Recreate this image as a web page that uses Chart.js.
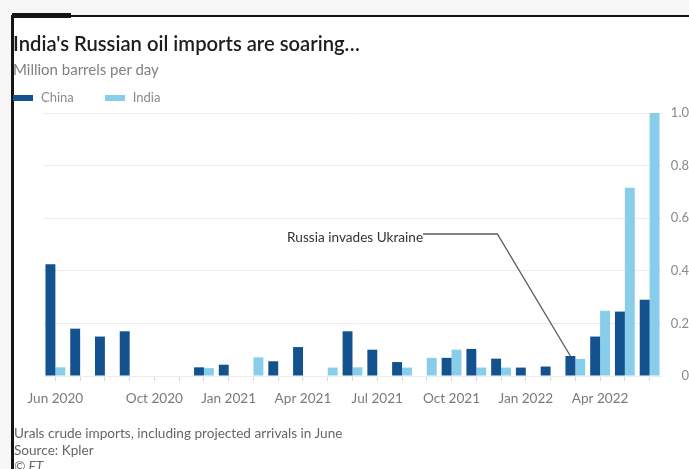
<!DOCTYPE html>
<html>
<head>
<meta charset="utf-8">
<script src="https://cdn.jsdelivr.net/npm/chart.js@4"></script>
<style>
  html, body { margin: 0; padding: 0; background: #f6f6f6; }
  #page { position: relative; width: 689px; height: 469px; overflow: hidden; background: #f6f6f6; font-family: Lato, "Open Sans", sans-serif; }
  #panel { position: absolute; left: 14px; top: 17px; right: 0; bottom: 0; background: #fff; }
  #frameTop { position: absolute; left: 12px; top: 15px; width: 677px; height: 2px; background: #141414; }
  #frameTab { position: absolute; left: 12px; top: 13px; width: 59px; height: 5px; background: #141414; }
  #frameLeft { position: absolute; left: 11px; top: 15px; width: 3px; height: 454px; background: #141414; }
  canvas { position: absolute; left: 0; top: 0; }
  .t { position: absolute; white-space: nowrap; line-height: 1; }
  #title { left: 13px; top: 33px; font-size: 20.2px; font-weight: 600; color: #1d1d1d; }
  #subtitle { left: 13px; top: 62px; font-size: 15px; color: #808080; }
  #legend { left: 13px; top: 91px; font-size: 13px; color: #8a8a8a; display: flex; align-items: center; }
  .item { display: flex; align-items: center; margin-right: 31px; }
  .swatch { width: 20px; height: 6px; margin-right: 8px; }
  #notes { left: 14px; top: 425px; font-size: 13.6px; color: #666; line-height: 16.5px; }
  #notes i { font-style: italic; }
</style>
</head>
<body>
<div id="page">
  <div id="panel"></div>
  <canvas id="chart" width="689" height="469"></canvas>
  <div id="frameTop"></div>
  <div id="frameTab"></div>
  <div id="frameLeft"></div>
  <div class="t" id="title">India's Russian oil imports are soaring…</div>
  <div class="t" id="subtitle">Million barrels per day</div>
  <div class="t" id="legend"></div>
  <div class="t" id="notes">Urals crude imports, including projected arrivals in June<br>Source: Kpler<br><i>© FT</i></div>
</div>
<script>
// Monthly categories, June 2020 to June 2022
const months = [
  'Jun 2020', 'Jul 2020', 'Aug 2020', 'Sep 2020', 'Oct 2020', 'Nov 2020', 'Dec 2020',
  'Jan 2021', 'Feb 2021', 'Mar 2021', 'Apr 2021', 'May 2021', 'Jun 2021',
  'Jul 2021', 'Aug 2021', 'Sep 2021', 'Oct 2021', 'Nov 2021', 'Dec 2021',
  'Jan 2022', 'Feb 2022', 'Mar 2022', 'Apr 2022', 'May 2022', 'Jun 2022'
];

// Urals crude imports, million barrels per day
const chinaImports = [
  0.425, 0.18, 0.15, 0.17, null, null, 0.033,
  0.043, null, 0.056, 0.11, null, 0.17,
  0.10, 0.053, null, 0.069, 0.103, 0.066,
  0.032, 0.036, 0.076, 0.15, 0.245, 0.29
];
const indiaImports = [
  0.033, null, null, null, null, null, 0.03,
  null, 0.071, null, null, 0.032, 0.033,
  null, 0.032, 0.069, 0.10, 0.032, 0.032,
  null, null, 0.065, 0.248, 0.716, 1.0
];

const seriesNames = ['China', 'India'];
const seriesColors = ['#13518f', '#88cde9'];

// Months that carry a label on the time axis
const xTickLabels = ['Jun 2020', 'Oct 2020', 'Jan 2021', 'Apr 2021', 'Jul 2021', 'Oct 2021', 'Jan 2022', 'Apr 2022'];
// Value axis labels, bottom to top
const yTickValues = [0, 0.2, 0.4, 0.6, 0.8, 1.0];
const yTickLabels = ['0', '0.2', '0.4', '0.6', '0.8', '1.0'];

// Call-out for the invasion: text ends at textEnd, the leader bends at elbow and drops to the China bar
const invasionNote = { text: 'Russia invades Ukraine', month: 'Mar 2022', textEnd: 14.85, elbow: 17.85, level: 0.54 };

// Legend
const legendEl = document.getElementById('legend');
seriesNames.forEach((name, i) => {
  const item = document.createElement('div');
  item.className = 'item';
  const sw = document.createElement('span');
  sw.className = 'swatch';
  sw.style.background = seriesColors[i];
  const lb = document.createElement('span');
  lb.textContent = name;
  item.appendChild(sw);
  item.appendChild(lb);
  legendEl.appendChild(item);
});

const calloutPlugin = {
  id: 'callout',
  afterDatasetsDraw(chart) {
    const { ctx, scales: { x, y } } = chart;
    const bar = chart.getDatasetMeta(0).data[months.indexOf(invasionNote.month)];
    const yLine = y.getPixelForValue(invasionNote.level);
    const xText = x.getPixelForValue(invasionNote.textEnd);
    const xElbow = x.getPixelForValue(invasionNote.elbow);
    ctx.save();
    ctx.strokeStyle = '#5a5a5a';
    ctx.lineWidth = 1.3;
    ctx.beginPath();
    ctx.moveTo(xText, yLine);
    ctx.lineTo(xElbow, yLine);
    ctx.lineTo(bar.x, bar.y);
    ctx.stroke();
    ctx.font = '13.6px Lato';
    ctx.fillStyle = '#333';
    ctx.textAlign = 'right';
    ctx.textBaseline = 'middle';
    ctx.fillText(invasionNote.text, xText, yLine + 4);
    ctx.restore();
  }
};

new Chart(document.getElementById('chart'), {
  type: 'bar',
  data: {
    labels: months,
    datasets: [
      { label: seriesNames[0], data: chinaImports, backgroundColor: seriesColors[0] },
      { label: seriesNames[1], data: indiaImports, backgroundColor: seriesColors[1] }
    ]
  },
  options: {
    responsive: false,
    animation: false,
    devicePixelRatio: 1,
    categoryPercentage: 0.8,
    barPercentage: 1.0,
    layout: { padding: { left: 43, right: 0, top: 113, bottom: 63 } },
    plugins: { legend: { display: false }, tooltip: { enabled: false } },
    scales: {
      x: {
        grid: { display: true, drawOnChartArea: false, offset: false, tickLength: 5, color: '#d9d9d9' },
        border: { display: false },
        ticks: {
          autoSkip: false,
          maxRotation: 0,
          padding: 9,
          color: '#7a7a7a',
          font: { family: 'Lato', size: 13.6 },
          callback(value) {
            const m = months[value];
            return xTickLabels.includes(m) ? m : '';
          }
        },
        afterFit(scale) { scale.height = 30; }
      },
      y: {
        position: 'right',
        min: 0,
        max: 1,
        afterBuildTicks(scale) { scale.ticks = yTickValues.map(v => ({ value: v })); },
        grid: { color: '#ececec', drawTicks: false },
        border: { display: false },
        ticks: {
          padding: 10,
          crossAlign: 'far',
          color: '#8a8a8a',
          font: { family: 'Lato', size: 13 },
          callback(value) { return yTickLabels[yTickValues.indexOf(value)]; }
        },
        afterFit(scale) { scale.width = 27; }
      }
    }
  },
  plugins: [calloutPlugin]
});
</script>
</body>
</html>
